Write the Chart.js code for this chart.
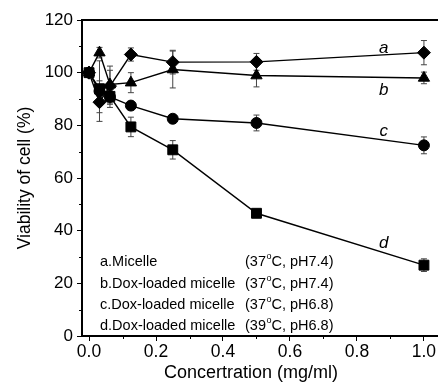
<!DOCTYPE html>
<html>
<head>
<meta charset="utf-8">
<script src="https://cdn.jsdelivr.net/npm/chart.js@4"></script>
<style>
  html, body { margin: 0; padding: 0; background: #fff; }
  #wrap { width: 438px; height: 383px; position: relative; }
</style>
</head>
<body>
<div id="wrap"><canvas id="chart" width="438" height="383"></canvas></div>
<script>
// concentrations (mg/ml)
const conc = [0, 0.03125, 0.0625, 0.125, 0.25, 0.5, 1.0];

// viability (%) and error bars
const micelle     = [100, 88.8, 94.9, 106.9, 104.0, 104.1, 107.6];
const micelleErr  = [1.5, 4, 6, 2.5, 4.5, 3.2, 4.6];
const dox74       = [100, 107.6, 95.5, 96.2, 101.2, 98.9, 98.0];
const dox74Err    = [1.5, 2, 7, 3.8, 7, 4.3, 2.2];
const dox68       = [100, 93.0, 90.8, 87.5, 82.5, 80.9, 72.4];
const dox68Err    = [1.5, 11.5, 4, 1.5, 1.5, 3, 3.2];
const dox68hot    = [100, 93.9, 91.0, 79.4, 70.7, 46.6, 26.9];
const dox68hotErr = [1.5, 3, 3, 3.7, 3.5, 1, 2.4];

const yTicks = [0, 20, 40, 60, 80, 100, 120];
const xTicks = [0, 0.2, 0.4, 0.6, 0.8, 1.0];

const legendLeft = ['a.Micelle', 'b.Dox-loaded micelle', 'c.Dox-loaded micelle', 'd.Dox-loaded micelle'];
const legendTemp = ['37', '37', '37', '39'];
const legendPH = ['C, pH7.4)', 'C, pH7.4)', 'C, pH6.8)', 'C, pH6.8)'];
const curveLabels = ['a', 'b', 'c', 'd'];
const xTitle = 'Concertration (mg/ml)';

const FONT = '"Liberation Sans", Arial, sans-serif';

function makeSet(values, errs, style, radius) {
  return {
    data: conc.map((x, i) => ({ x: x, y: values[i] })),
    errors: errs,
    borderColor: '#000',
    backgroundColor: '#000',
    borderWidth: 1.4,
    pointStyle: style,
    pointRadius: radius,
    pointBorderWidth: 1,
    pointBorderColor: '#000',
    pointBackgroundColor: '#000',
    showLine: true,
    tension: 0,
    clip: false
  };
}

// error bars behind the markers
const errorBars = {
  id: 'errorBars',
  beforeDatasetsDraw(chart) {
    const ctx = chart.ctx;
    const y = chart.scales.y;
    ctx.save();
    ctx.strokeStyle = '#444';
    ctx.lineWidth = 1;
    chart.data.datasets.forEach((ds, di) => {
      const meta = chart.getDatasetMeta(di);
      meta.data.forEach((pt, i) => {
        const v = ds.data[i].y, e = ds.errors[i];
        const top = y.getPixelForValue(v + e);
        const bot = y.getPixelForValue(v - e);
        ctx.beginPath();
        ctx.moveTo(pt.x, top); ctx.lineTo(pt.x, bot);
        ctx.moveTo(pt.x - 3, top); ctx.lineTo(pt.x + 3, top);
        ctx.moveTo(pt.x - 3, bot); ctx.lineTo(pt.x + 3, bot);
        ctx.stroke();
      });
    });
    ctx.restore();
  }
};

// frame, minor ticks, curve letters, x title and the text legend
const decorations = {
  id: 'decorations',
  afterDraw(chart) {
    const ctx = chart.ctx;
    const a = chart.chartArea;
    const x = chart.scales.x, y = chart.scales.y;
    ctx.save();
    ctx.strokeStyle = '#000';
    ctx.lineWidth = 2;
    ctx.beginPath();
    ctx.moveTo(a.left, a.top); ctx.lineTo(a.right, a.top);
    ctx.stroke();

    // minor ticks
    ctx.lineWidth = 1;
    ctx.beginPath();
    for (let v = 10; v < 120; v += 20) {
      const py = Math.round(y.getPixelForValue(v)) + 0.5;
      ctx.moveTo(a.left - 3, py); ctx.lineTo(a.left, py);
    }
    for (let v = 0.1; v < 1.05; v += 0.2) {
      const px = Math.round(x.getPixelForValue(v)) + 0.5;
      ctx.moveTo(px, a.bottom); ctx.lineTo(px, a.bottom + 3);
    }
    ctx.stroke();

    // curve letters
    ctx.fillStyle = '#000';
    ctx.font = 'italic 17px ' + FONT;
    ctx.textAlign = 'center';
    ctx.textBaseline = 'middle';
    const letterPos = [[0.88, 109.2], [0.88, 93.5], [0.88, 77.9], [0.88, 35.3]];
    curveLabels.forEach((t, i) => {
      ctx.fillText(t, x.getPixelForValue(letterPos[i][0]), y.getPixelForValue(letterPos[i][1]));
    });

    // x axis title
    ctx.font = '18px ' + FONT;
    ctx.fillText(xTitle, 251, 373);

    // text legend
    ctx.textAlign = 'left';
    const rows = [262, 284, 305, 326];
    rows.forEach((py, i) => {
      ctx.font = '14.5px ' + FONT;
      ctx.fillText(legendLeft[i], 100, py);
      let px = 245;
      const s1 = '(' + legendTemp[i];
      ctx.fillText(s1, px, py);
      px += ctx.measureText(s1).width;
      ctx.font = '9px ' + FONT;
      ctx.fillText('o', px + 0.5, py - 5);
      px += ctx.measureText('o').width + 0.5;
      ctx.font = '14.5px ' + FONT;
      ctx.fillText(legendPH[i], px, py);
    });
    ctx.restore();
  }
};

new Chart(document.getElementById('chart'), {
  type: 'scatter',
  data: {
    datasets: [
      makeSet(dox68hot, dox68hotErr, 'rect', 7),
      makeSet(dox68, dox68Err, 'circle', 5.5),
      makeSet(dox74, dox74Err, 'triangle', 6.5),
      makeSet(micelle, micelleErr, 'rectRot', 6.5)
    ]
  },
  options: {
    responsive: false,
    animation: false,
    layout: { autoPadding: false, padding: { top: 20, right: 0, left: 0, bottom: 0 } },
    plugins: { legend: { display: false }, tooltip: { enabled: false } },
    scales: {
      x: {
        type: 'linear',
        min: -0.021,
        max: 1.042,
        afterBuildTicks: (s) => { s.ticks = xTicks.map(v => ({ value: v })); },
        afterFit: (s) => { s.height = 47; s.paddingRight = 0; s.paddingLeft = 0; },
        ticks: {
          color: '#000',
          font: { family: FONT, size: 17.5 },
          padding: 1,
          maxRotation: 0,
          callback: (v) => v.toFixed(1)
        },
        grid: { drawOnChartArea: false, drawTicks: true, tickLength: 5, color: '#000', tickWidth: 1 },
        border: { display: true, color: '#000', width: 2 },
        title: { display: false }
      },
      y: {
        min: 0,
        max: 120,
        afterBuildTicks: (s) => { s.ticks = yTicks.map(v => ({ value: v })); },
        afterFit: (s) => { s.width = 82; s.paddingTop = 0; s.paddingBottom = 0; },
        ticks: {
          color: '#000',
          font: { family: FONT, size: 17 },
          padding: 4
        },
        grid: { drawOnChartArea: false, drawTicks: true, tickLength: 5, color: '#000', tickWidth: 1 },
        border: { display: true, color: '#000', width: 2 },
        title: {
          display: true,
          text: 'Viability of cell (%)',
          color: '#000',
          font: { family: FONT, size: 17.5 },
          padding: { top: 15, bottom: 6 }
        }
      }
    }
  },
  plugins: [errorBars, decorations]
});
</script>
</body>
</html>
